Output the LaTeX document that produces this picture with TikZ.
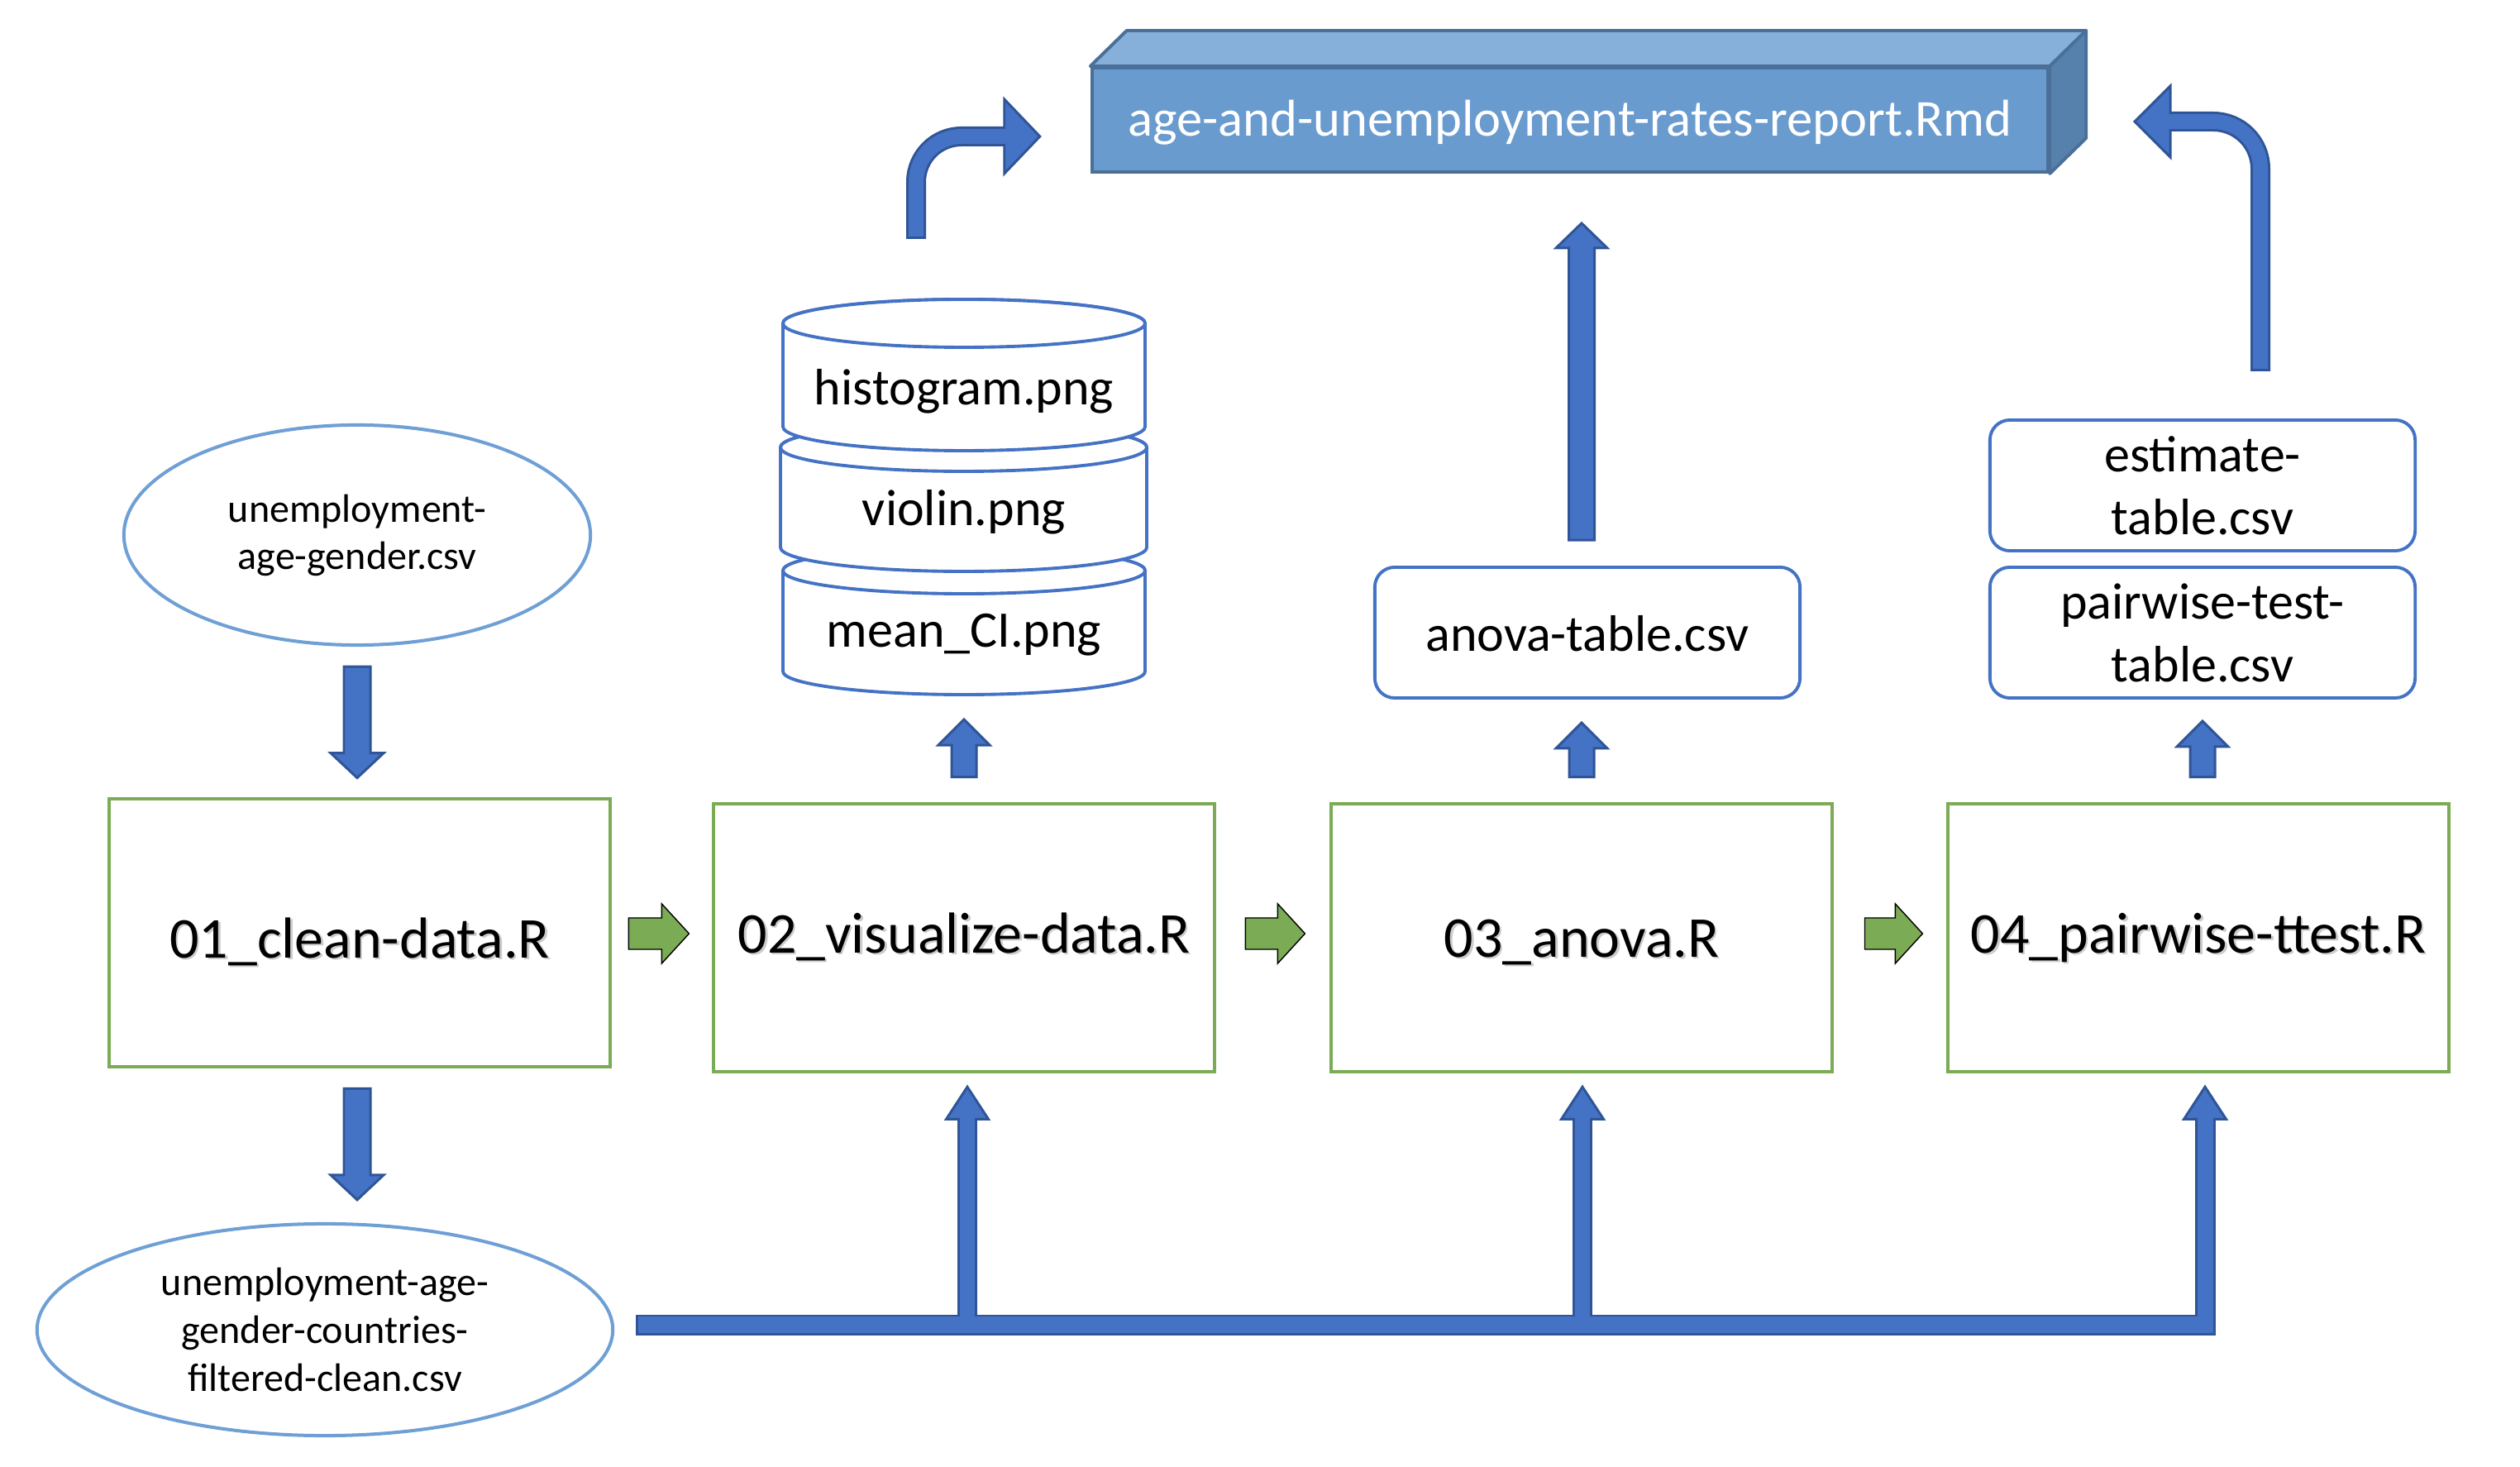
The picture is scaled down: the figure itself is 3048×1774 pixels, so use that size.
\documentclass[tikz,border=0pt]{standalone}
\usepackage{fontspec}
\setmainfont{Carlito}
\usetikzlibrary{calc,shapes.geometric}
\definecolor{ablue}{HTML}{4472C4}
\definecolor{adark}{HTML}{2F5597}
\definecolor{elblue}{HTML}{6E9FD5}
\definecolor{boxgreen}{HTML}{7BAB55}
\definecolor{repfront}{HTML}{6A9BCF}
\definecolor{reptop}{HTML}{86AFD9}
\definecolor{repside}{HTML}{5681AD}
\definecolor{repline}{HTML}{4A6F98}
% block arrow: style, start, tip, half shaft, half head, head length
\newcommand\blockarrow[6]{%
  \coordinate (ba-s) at #2; \coordinate (ba-t) at #3;
  \coordinate (ba-h) at ($(ba-t)!#6!(ba-s)$);
  \filldraw[#1] ($(ba-s)!#4!90:(ba-t)$) -- ($(ba-h)!#4!90:(ba-t)$) -- ($(ba-h)!#5!90:(ba-t)$) -- (ba-t)
     -- ($(ba-h)!#5!-90:(ba-t)$) -- ($(ba-h)!#4!-90:(ba-t)$) -- ($(ba-s)!#4!-90:(ba-t)$) -- cycle;}
\newcommand\cylshape[5]{% x1, x2, ytop, ybottom, ry
  \filldraw[cylline] (#1,#3) -- (#1,#4) arc[start angle=180,end angle=0,x radius={(#2-#1)/2},y radius=#5]
     -- (#2,#3) arc[start angle=0,end angle=-180,x radius={(#2-#1)/2},y radius=#5] -- cycle;
  \draw[cylline] ({(#1+#2)/2},#3) ellipse[x radius={(#2-#1)/2},y radius=#5];}
\newcommand\shtext[1]{\leavevmode\rlap{\kern0.025cm\lower0.025cm\hbox{\color{black!20}#1}}#1}
\begin{document}
\begin{tikzpicture}[x=0.01cm, y=-0.01cm,
  ellip/.style={ellipse, draw=elblue, line width=1.14pt, fill=white, inner sep=0pt, align=center},
  scriptbox/.style={rectangle, draw=boxgreen, line width=1.28pt, minimum width=6.06cm, minimum height=3.24cm,
     inner sep=0pt, text depth=0pt, font=\fontsize{19.9pt}{24pt}\selectfont},
  databox/.style={rectangle, rounded corners=0.24cm, draw=ablue, line width=1.1pt, minimum width=5.14cm,
     minimum height=1.58cm, inner sep=0pt, align=center, font=\fontsize{17.64pt}{21.6pt}\selectfont},
  cylline/.style={draw=ablue, line width=1.1pt, fill=white},
  cyltext/.style={anchor=base, inner sep=0pt, font=\fontsize{17.64pt}{21pt}\selectfont},
  blockfill/.style={fill=ablue, draw=adark, line width=0.85pt, line join=miter},
  greenfill/.style={fill=boxgreen},
  repface/.style={rectangle, fill=repfront, draw=repline, line width=1.1pt, text=white, inner sep=0pt,
     font=\fontsize{17.8pt}{21pt}\selectfont},
  shaftborder/.style={draw=adark, line width=6.83pt},
  shaftfill/.style={draw=ablue, line width=5.12pt}]
\fill[white] (0,0) rectangle (3048,1774);
\useasboundingbox (0,0) rectangle (3048,1774);

% report cuboid
\node[repface, minimum width=11.56cm, minimum height=1.26cm, text height=0.4cm, text depth=0pt] (rep) at (1899,145)
  {age-and-unemployment-rates-report.Rmd};
\filldraw[fill=reptop, draw=repline, line width=1.1pt, line join=round]
  (rep.north west) -- ++(44,-43) -- ($(rep.north east)+(44,-43)$) -- (rep.north east) -- cycle;
\filldraw[fill=repside, draw=repline, line width=1.1pt, line join=round]
  (rep.north east) -- ++(44,-43) -- ($(rep.south east)+(44,-43)$) -- (rep.south east) -- cycle;

% ellipses
\node[ellip, minimum width=5.64cm, minimum height=2.66cm, font=\fontsize{13.66pt}{16.2pt}\selectfont] (e1) at (432,647)
  {unemployment-\\age-gender.csv};
\node[ellip, minimum width=6.96cm, minimum height=2.56cm, font=\fontsize{13.66pt}{16.5pt}\selectfont] (e2) at (393,1608)
  {unemployment-age-\\gender-countries-\\filtered-clean.csv};

% script boxes
\node[scriptbox, text height=0.6cm] (b1) at (435,1128) {\shtext{01\_clean-data.R}};
\node[scriptbox, text height=0.36cm] (b2) at (1166,1134) {\shtext{02\_visualize-data.R}};
\node[scriptbox, text height=0.46cm] (b3) at (1913,1134) {\shtext{03\_anova.R}};
\node[scriptbox, text height=0.36cm] (b4) at (2659,1134) {\shtext{04\_pairwise-ttest.R}};

% cylinders
\cylshape{947}{1385}{690}{812}{28}
\cylshape{944}{1387}{541}{662}{29}
\cylshape{947}{1385}{391}{516}{29}
\coordinate (cylbot) at (1166,840);
\node[cyltext] (hist) at (1166,490) {histogram.png};
\node[cyltext] (viol) at (1166,636) {violin.png};
\node[cyltext] (mean) at (1166,783) {mean\_CI.png};

% data boxes
\node[databox, text height=0.44cm, text depth=0pt] (anova) at (1920,765) {anova-table.csv};
\node[databox] (est) at (2664,587) {estimate-\\table.csv};
\node[databox] (pair) at (2664,765) {pairwise-test-\\table.csv};

% straight block arrows
\blockarrow{blockfill}{($(e1.south)+(0,24)$)}{($(e1.south |- b1.north)+(0,-23)$)}{0.16cm}{0.32cm}{0.30cm}
\blockarrow{blockfill}{($(b1.south)+(-3,24)$)}{($(b1.south |- e2.north)+(-3,-27)$)}{0.16cm}{0.32cm}{0.30cm}
\blockarrow{blockfill}{($(b2.north)+(0,-30)$)}{($(cylbot)+(0,30)$)}{0.15cm}{0.31cm}{0.31cm}
\blockarrow{blockfill}{($(b3.north)+(0,-30)$)}{($(b3.north |- anova.south)+(0,28)$)}{0.15cm}{0.31cm}{0.31cm}
\blockarrow{blockfill}{($(pair.south |- b4.north)+(0,-30)$)}{($(pair.south)+(0,26)$)}{0.15cm}{0.31cm}{0.31cm}
\blockarrow{blockfill}{($(b3.north |- anova.north)+(0,-31)$)}{($(b3.north |- rep.south)+(0,60)$)}{0.155cm}{0.31cm}{0.30cm}

% green arrows
\blockarrow{greenfill}{($(b1.east)+(20,1)$)}{($(b1.east)+(93,1)$)}{0.19cm}{0.36cm}{0.33cm}
\blockarrow{greenfill}{($(b2.east)+(35,-5)$)}{($(b2.east)+(107,-5)$)}{0.19cm}{0.36cm}{0.33cm}
\blockarrow{greenfill}{($(b3.east)+(37,-5)$)}{($(b3.east)+(107,-5)$)}{0.19cm}{0.36cm}{0.33cm}

% bent arrow: cylinders -> report
\coordinate (lt) at ($(rep.west)+(-61,20)$);
\coordinate (lh) at ($(lt)+(-43,0)$);
\coordinate (la) at (1108,289);
\draw[shaftborder, rounded corners=0.55cm] (la) |- (lh);
\filldraw[blockfill] ($(lh)+(0,-45)$) -- (lt) -- ($(lh)+(0,45)$) -- cycle;
\draw[shaftfill, rounded corners=0.55cm] ($(la)+(0,-3)$) |- ($(lh)+(4,0)$);

% bent arrow: estimate/pairwise -> report
\coordinate (rt) at (2582,147);
\coordinate (rh) at ($(rt)+(43,0)$);
\coordinate (ra) at (2734,449);
\draw[shaftborder, rounded corners=0.57cm] (ra) |- (rh);
\filldraw[blockfill] ($(rh)+(0,-43)$) -- (rt) -- ($(rh)+(0,43)$) -- cycle;
\draw[shaftfill, rounded corners=0.57cm] ($(ra)+(0,-3)$) |- ($(rh)+(-4,0)$);

% bottom distribution connector
\coordinate (bl) at ($(e2.east)+(26,-6)$);
\coordinate (t1) at ($(b2.south)+(4,16)$);
\coordinate (t2) at ($(b3.south)+(1,16)$);
\coordinate (t3) at ($(b4.south)+(8,16)$);
\coordinate (bc) at (t3 |- bl);
\draw[draw=adark, line width=7.11pt, line join=miter] (bl) -- (bc) -- ($(t3)+(0,39)$);
\draw[shaftborder] (t1 |- bl) -- ($(t1)+(0,39)$);
\draw[shaftborder] (t2 |- bl) -- ($(t2)+(0,39)$);
\filldraw[blockfill] ($(t1)+(-25.5,39)$) -- (t1) -- ($(t1)+(25.5,39)$) -- cycle;
\filldraw[blockfill] ($(t2)+(-25.5,39)$) -- (t2) -- ($(t2)+(25.5,39)$) -- cycle;
\filldraw[blockfill] ($(t3)+(-25.5,39)$) -- (t3) -- ($(t3)+(25.5,39)$) -- cycle;
\draw[draw=ablue, line width=5.41pt, line join=miter] ($(bl)+(3,0)$) -- (bc) -- ($(t3)+(0,36)$);
\draw[shaftfill] (t1 |- bl) -- ($(t1)+(0,36)$);
\draw[shaftfill] (t2 |- bl) -- ($(t2)+(0,36)$);
\end{tikzpicture}
\end{document}
